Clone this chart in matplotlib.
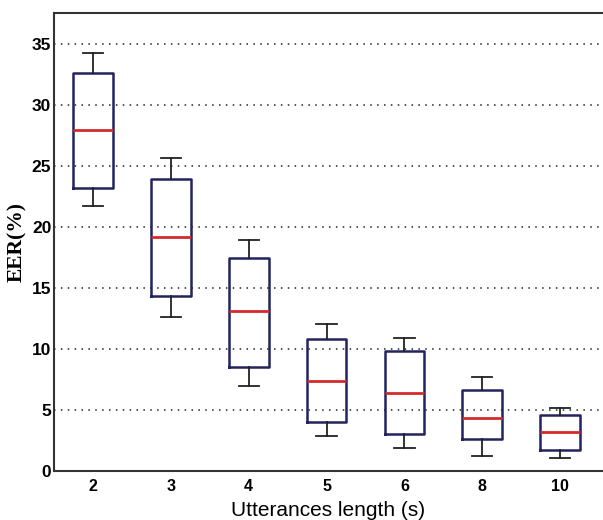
import matplotlib.pyplot as plt

# EER distribution per utterance length
lengths = ['2', '3', '4', '5', '6', '8', '10']
medians = [27.9, 19.2, 13.1, 7.4, 6.4, 4.3, 3.2]
q1 = [23.2, 14.3, 8.5, 4.0, 3.0, 2.6, 1.7]
q3 = [32.6, 23.9, 17.4, 10.8, 9.8, 6.6, 4.6]
whis_lo = [21.7, 12.6, 7.0, 2.9, 1.9, 1.2, 1.1]
whis_hi = [34.2, 25.6, 18.9, 12.0, 10.9, 7.7, 5.2]

stats = []
for i in range(len(lengths)):
    stats.append({'label': lengths[i], 'med': medians[i], 'q1': q1[i], 'q3': q3[i],
                  'whislo': whis_lo[i], 'whishi': whis_hi[i], 'fliers': []})

fig = plt.figure(figsize=(6.03, 5.2), dpi=100)
ax = fig.add_axes([0.0896, 0.0942, 0.9104, 0.8808])

ax.bxp(stats, widths=0.51, showfliers=False,
       boxprops=dict(color='#23235e', linewidth=1.8),
       medianprops=dict(color='#d42a2a', linewidth=2.0),
       whiskerprops=dict(color='#222222', linewidth=1.3, linestyle='-'),
       capprops=dict(color='#222222', linewidth=1.3),
       capwidths=0.26)

ax.set_xlim(0.5, 7.55)
ax.set_ylim(0, 37.5)
ax.set_yticks(range(0, 36, 5))
for y in range(5, 36, 5):
    ax.axhline(y, color='#222222', linestyle=(0, (1, 3.5)), linewidth=1.1, zorder=0)

ax.tick_params(axis='y', length=0, pad=2)
ax.tick_params(axis='x', length=0, pad=6)
for lab in ax.get_yticklabels():
    lab.set_fontfamily('Liberation Sans')
    lab.set_fontweight('bold')
    lab.set_fontsize(12.5)
for lab in ax.get_xticklabels():
    lab.set_fontfamily('Liberation Sans')
    lab.set_fontweight('bold')
    lab.set_fontsize(11.5)

for s in ['left', 'bottom', 'top']:
    ax.spines[s].set_color('#333333')
    ax.spines[s].set_linewidth(1.5)
ax.spines['right'].set_visible(False)

ax.set_ylabel('EER(%)', fontfamily='Liberation Serif', fontweight='bold', fontsize=15.5, labelpad=3)
ax.set_xlabel('Utterances length (s)', fontfamily='Liberation Sans', fontsize=15, labelpad=5)

fig.savefig('out.png', dpi=100)
